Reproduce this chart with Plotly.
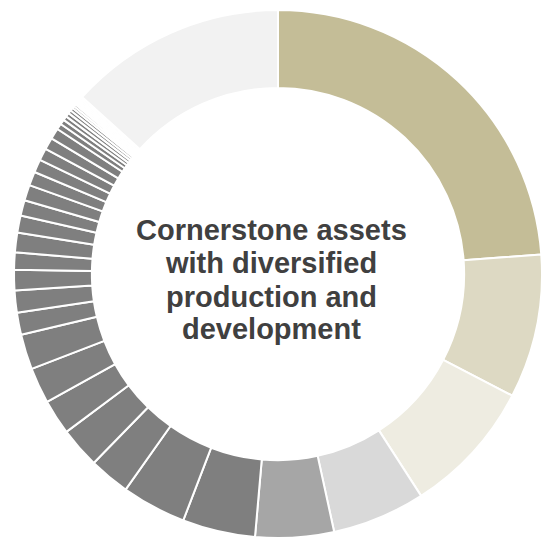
import plotly.graph_objects as go

# Share of portfolio by asset, in percent (clockwise from 12 o'clock)
assets = [f"Asset {i + 1}" for i in range(41)]
shares = [
    23.8, 8.8, 8.25, 5.7, 4.8,
    4.45, 3.95, 2.5, 2.5, 2.15, 2.2, 2.15, 1.35, 1.35, 1.25,
    1.05, 1.2, 1.05, 0.95, 0.95, 0.85, 0.8, 0.75, 0.72, 0.67,
    0.36, 0.31, 0.26, 0.24, 0.21, 0.18, 0.15, 0.14, 0.125, 0.11,
    0.10, 0.083, 0.07, 0.055, 0.04,
    13.3,
]
colors = (
    ["#C4BD97", "#DDD9C3", "#EEECE1", "#D9D9D9", "#A6A6A6"]
    + ["#7F7F7F"] * 35
    + ["#F2F2F2"]
)
center_lines = ["Cornerstone assets", "with diversified", "production and", "development"]

W, H = 542, 544
M = dict(l=14, r=0, t=10, b=6)

fig = go.Figure(
    go.Pie(
        labels=assets,
        values=shares,
        hole=0.705,
        sort=False,
        direction="clockwise",
        rotation=0,
        marker=dict(colors=colors, line=dict(color="#FFFFFF", width=2)),
        textinfo="none",
        hoverinfo="label+percent",
        showlegend=False,
    )
)

# Centre caption, one annotation per line so the line pitch stays tight
plot_h = H - M["t"] - M["b"]
line_px = [230, 263, 297, 329]
for txt, py in zip(center_lines, line_px):
    fig.add_annotation(
        text=f"<b>{txt}</b>",
        x=(271 - M["l"]) / (W - M["l"] - M["r"]),
        y=(H - M["b"] - py) / plot_h,
        xref="paper",
        yref="paper",
        xanchor="center",
        yanchor="middle",
        showarrow=False,
        font=dict(family="Liberation Sans, Arial, sans-serif", size=29, color="#404040"),
    )

fig.update_layout(
    width=W,
    height=H,
    margin=M,
    paper_bgcolor="#FFFFFF",
    plot_bgcolor="#FFFFFF",
)

fig.write_html("out.html")
